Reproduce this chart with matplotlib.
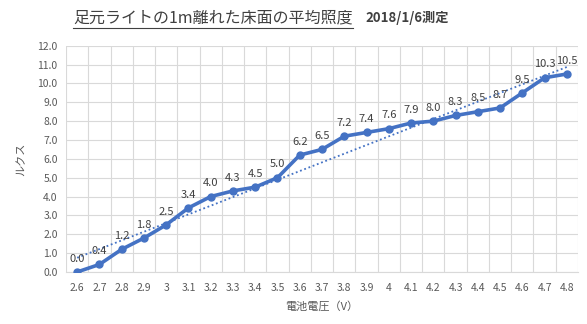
import numpy as np
import matplotlib
matplotlib.use('Agg')
import matplotlib.pyplot as plt
from matplotlib.lines import Line2D

plt.rcParams['font.family'] = ['Noto Sans CJK JP', 'DejaVu Sans']

# -------------------------------------------------------
# Data
voltage_labels = ['2.6', '2.7', '2.8', '2.9', '3', '3.1', '3.2', '3.3', '3.4', '3.5', '3.6', '3.7',
                  '3.8', '3.9', '4', '4.1', '4.2', '4.3', '4.4', '4.5', '4.6', '4.7', '4.8']
lux_values = [0.0, 0.4, 1.2, 1.8, 2.5, 3.4, 4.0, 4.3, 4.5, 5.0, 6.2, 6.5,
              7.2, 7.4, 7.6, 7.9, 8.0, 8.3, 8.5, 8.7, 9.5, 10.3, 10.5]
y_ticks = [0, 1, 2, 3, 4, 5, 6, 7, 8, 9, 10, 11, 12]

main_title = '足元ライトの1m離れた床面の平均照度'
date_text = '2018/1/6測定'

# -------------------------------------------------------
blue = '#4472C4'
grid_color = '#D9D9D9'
text_color = '#595959'

fig = plt.figure(figsize=(5.87, 3.24), dpi=100)
ax = fig.add_axes([66 / 587, 1 - 272 / 324, (578 - 66) / 587, (272 - 45.7) / 324])

x = np.arange(len(lux_values))

# Excel-style linear trendline
slope, origin = np.polyfit(x, lux_values, 1)
ax.plot(x, slope * x + origin, color=blue, linestyle=(0, (1, 1.5)), linewidth=1.3, zorder=2)

ax.plot(x, lux_values, color=blue, linewidth=2.6, marker='o', markersize=5, zorder=3)

# data labels above each point
for xi, yi in zip(x, lux_values):
    ax.annotate(f'{yi:.1f}', (xi, yi), xytext=(0, 6), textcoords='offset points',
                ha='center', va='bottom', fontsize=8, color='#404040', zorder=4)

ax.set_xlim(-0.5, len(lux_values) - 0.5)
ax.set_ylim(0, 12)
ax.set_yticks(y_ticks)
ax.set_yticklabels([f'{v:.1f}' for v in y_ticks])
ax.set_xticks(x)
ax.set_xticklabels(voltage_labels)
ax.set_xticks(np.arange(-0.5, len(lux_values)), minor=True)

ax.grid(True, which='major', axis='y', color=grid_color, linewidth=0.8)
ax.grid(True, which='minor', axis='x', color=grid_color, linewidth=0.8)
ax.set_axisbelow(True)
for side in ['top', 'right', 'left']:
    ax.spines[side].set_visible(False)
ax.spines['bottom'].set_color(grid_color)
ax.tick_params(which='both', length=0, labelsize=7.5, labelcolor=text_color)
ax.tick_params(axis='x', pad=8)
ax.tick_params(axis='y', pad=6)

ax.set_xlabel('電池電圧（V）', fontsize=8, color=text_color, labelpad=6)
ax.set_ylabel('ルクス', fontsize=8, color=text_color, labelpad=8)

# title with underline, plus date
t1 = fig.text(73 / 587, 1 - 18 / 324, main_title, fontsize=11.5, color='#404040', va='center', ha='left')
t2 = fig.text(365 / 587, 1 - 18 / 324, date_text, fontsize=9.5, fontweight='bold', color='#404040',
              va='center', ha='left')
fig.canvas.draw()
bb = t1.get_window_extent()
uy = 1 - 27.5 / 324
fig.add_artist(Line2D([bb.x0 / 587, bb.x1 / 587], [uy, uy], transform=fig.transFigure,
                      color='#404040', linewidth=0.8))

fig.savefig('out.png', dpi=100)
